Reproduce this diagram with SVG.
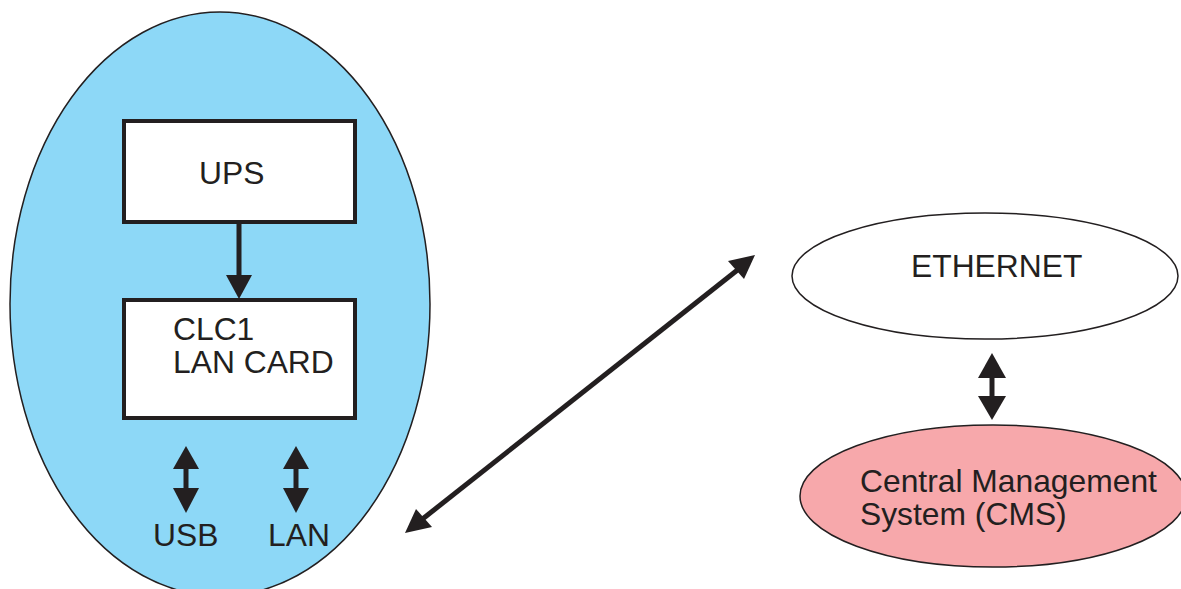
<svg xmlns="http://www.w3.org/2000/svg" width="1181" height="589" viewBox="0 0 1181 589">
<defs>
<style>
text{font-family:"Liberation Sans",Arial,sans-serif;font-size:31.8px;fill:#231F20}
.box{fill:#fff;stroke:#231F20;stroke-width:4}
.ell{stroke:#231F20;stroke-width:1.5}
.ln{stroke:#231F20;stroke-width:5;fill:none}
.hd{fill:#231F20}
</style>
</defs>
<rect width="1181" height="589" fill="#fff"/>
<g id="site">
<ellipse class="ell" cx="220" cy="304" rx="210" ry="292" fill="#8DD8F7"/>
</g>
<g id="ups">
<rect class="box" x="124" y="121" width="231" height="101"/>
<text x="199" y="184">UPS</text>
</g>
<g id="clc1">
<rect class="box" x="124" y="300" width="231" height="118"/>
<text x="173" y="340">CLC1</text>
<text x="173" y="373">LAN CARD</text>
</g>
<g id="usb"><text x="153" y="546">USB</text></g>
<g id="lan"><text x="268" y="546">LAN</text></g>
<g id="ethernet">
<ellipse class="ell" cx="985" cy="276" rx="193" ry="63" fill="#fff"/>
<text x="911" y="277">ETHERNET</text>
</g>
<g id="cms">
<ellipse class="ell" cx="993" cy="496" rx="193" ry="71" fill="#F7A8AB"/>
<text x="860" y="492">Central Management</text>
<text x="860" y="525">System (CMS)</text>
</g>
<g id="connectors">
<line class="ln" x1="239" y1="222" x2="239" y2="276"/>
<polygon class="hd" points="226,275 252,275 239,299"/>
<line class="ln" x1="186" y1="465" x2="186" y2="492"/>
<polygon class="hd" points="173,469 199,469 186,446"/>
<polygon class="hd" points="173,488 199,488 186,513"/>
<line class="ln" x1="296" y1="465" x2="296" y2="492"/>
<polygon class="hd" points="283,469 309,469 296,446"/>
<polygon class="hd" points="283,488 309,488 296,513"/>
<line class="ln" x1="992" y1="375" x2="992" y2="399"/>
<polygon class="hd" points="978,378 1006,378 992,353"/>
<polygon class="hd" points="978,396 1006,396 992,420"/>
<line class="ln" x1="420" y1="521" x2="740" y2="268"/>
<polygon class="hd" points="405,533 416,509 432,527"/>
<polygon class="hd" points="755,255 744,279 728,261"/>
</g>
</svg>
